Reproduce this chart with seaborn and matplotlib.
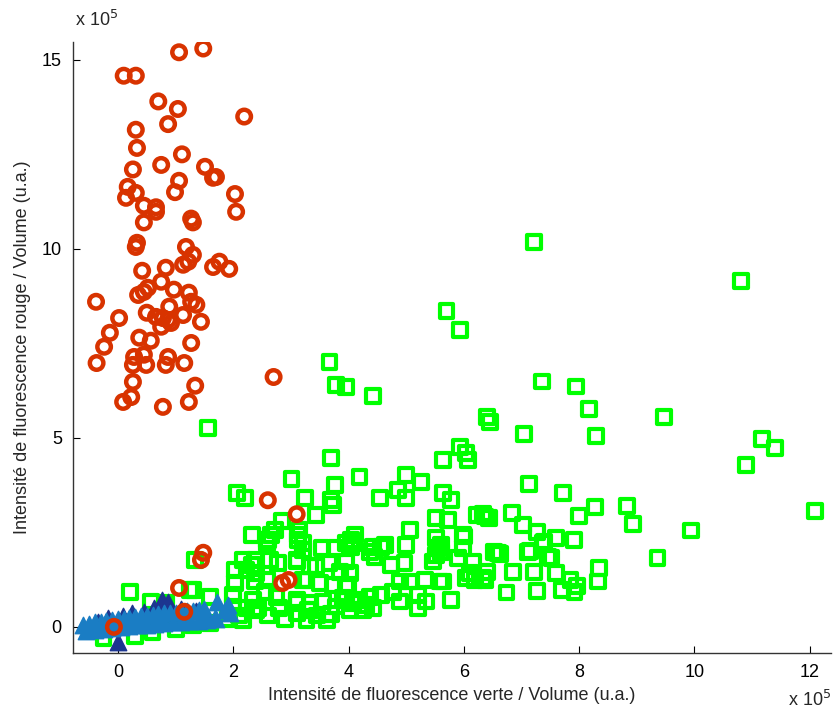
import pandas as pd
import matplotlib
matplotlib.use('Agg')
import matplotlib.pyplot as plt
import seaborn as sns

# ---- values (units of 1e5, u.a.) ----
# green squares
green_x = [7.21, 10.81, 5.70, 5.94, 3.67, 3.78, 3.95, 4.42, 1.56,
           7.36, 7.94, 8.17, 9.47, 6.40, 6.46, 7.05, 8.30, 11.17, 11.39, 10.89,
           7.13, 7.72, 12.09, 6.83, 6.43, 6.34, 7.02, 7.99, 8.28, 8.83, 8.94, 9.94,
           7.27, 7.39, 7.60, 7.91, 7.15, 7.52, 6.63, 9.36, 6.85, 7.21, 7.60, 8.35,
           8.32, 7.85, 7.97, 7.70, 7.27, 6.74, 6.40, 6.37,
           3.70, 4.19, 3.01, 3.76, 5.00, 5.26, 4.86, 5.00, 4.54, 5.64, 6.04, 6.07,
           5.93, 5.64, 5.78, 2.06, 2.20, 3.24, 3.70, 3.73, 3.43, 2.84, 2.72, 2.32,
           2.60, 3.15, 3.12, 3.21, 4.11, 4.05, 5.52, 5.72, 6.22, 6.36, 5.06, 5.00,
           5.52, 5.55, 6.01, 5.98, 3.53, 3.79, 4.05, 4.42, 4.57, 6.53,
           2.59, 2.66, 3.12, 3.96, 2.37, 2.32, 2.78, 2.03, 3.10, 3.44, 3.67, 3.85,
           2.03, 2.37, 2.58, 3.27, 3.50, 3.73, 3.96, 1.31, 1.59, 2.00, 2.55, 2.75,
           3.10, 3.33, 3.56, 3.79, 3.96, 2.23, 2.43, 3.10, 3.30, 3.62, 2.17,
           4.08, 4.63, 4.37, 4.45, 5.52, 5.46, 5.98, 5.90, 6.16, 6.59, 3.96, 4.02,
           4.74, 4.97, 6.10, 6.33, 6.19, 4.89, 5.06, 5.32, 5.58, 3.99, 3.90, 4.19,
           4.37, 4.57, 4.77, 4.89, 5.20, 5.35, 5.20, 5.78, 4.02, 4.25, 4.42, 4.08,
           4.31, 5.61, 5.61, 6.04, 7.11, 7.46, 7.92, 5.64, 7.37,
           1.33, 0.21, 0.58, 0.84, 1.25, 2.00, 2.35, 2.40, 2.58, 2.63, 2.40, 2.23,
           2.17, 3.10, 3.21, 3.33, 3.21, 3.10, 3.33, 3.27, -0.25, 1.07,
           0.30, 0.60, 1.00, 1.30, 1.60, 1.90, 2.10, 2.60, 2.90, 3.45, 3.70, 2.80]
green_y = [10.18, 9.16, 8.36, 7.86, 7.01, 6.40, 6.35, 6.11, 5.26,
           6.49, 6.36, 5.77, 5.56, 5.56, 5.43, 5.10, 5.05, 4.97, 4.74, 4.29,
           3.78, 3.54, 3.07, 3.02, 2.89, 3.00, 2.70, 2.94, 3.16, 3.20, 2.72, 2.55,
           2.52, 2.26, 2.35, 2.30, 2.01, 1.83, 1.92, 1.83, 1.46, 1.46, 1.42, 1.55,
           1.20, 1.24, 1.07, 0.98, 0.95, 0.91, 1.46, 1.24,
           4.46, 3.96, 3.91, 3.76, 4.02, 3.84, 3.62, 3.40, 3.40, 4.42, 4.60, 4.42,
           4.77, 3.54, 3.36, 3.54, 3.40, 3.40, 3.36, 3.23, 2.96, 2.79, 2.57, 2.43,
           2.30, 2.57, 2.30, 2.21, 2.43, 2.30, 2.88, 2.83, 2.96, 2.92, 2.57, 2.17,
           2.35, 2.08, 2.39, 2.08, 2.08, 2.08, 2.12, 2.12, 2.12, 1.99,
           2.30, 2.43, 2.43, 2.21, 1.77, 1.64, 1.69, 1.51, 1.73, 1.60, 1.69, 1.46,
           1.16, 1.20, 1.24, 1.24, 1.16, 1.11, 1.07, 0.98, 0.80, 0.85, 0.93, 0.80,
           0.71, 0.63, 0.67, 0.54, 0.71, 0.49, 0.49, 0.36, 0.45, 0.19, 0.19,
           2.21, 2.17, 1.99, 1.86, 1.90, 1.73, 2.43, 1.82, 1.73, 1.95, 1.73, 1.42,
           1.64, 1.69, 1.42, 1.29, 1.24, 1.20, 1.20, 1.24, 1.20, 1.11, 0.76, 0.71,
           0.80, 0.85, 0.93, 0.67, 0.85, 0.67, 0.49, 0.71, 0.45, 0.45, 0.49, 0.63,
           0.58, 2.17, 1.99, 1.29, 1.99, 1.86, 0.93, 1.20, 2.21,
           1.77, 0.93, 0.67, 0.63, 0.98, 0.54, 0.71, 0.45, 2.21, 1.77, 1.42, 1.51,
           1.77, 1.77, 2.04, 1.60, 1.24, 0.63, 0.45, 0.19, -0.30, 0.19,
           -0.25, -0.15, -0.05, 0.05, 0.10, 0.20, 0.30, 0.30, 0.20, 0.30, 0.35, 0.50]

# dark blue triangles (mostly hidden behind the light blue ones)
navy_x = [0.00, 0.76, 0.87, 0.62, 0.45, 0.24, 0.09, -0.17, -0.35, 1.10, 1.36]
navy_y = [-0.39, 0.71, 0.66, 0.50, 0.40, 0.36, 0.28, 0.24, 0.12, 0.48, 0.42]

# light blue triangles
blue_x = [-0.60, -0.50, -0.40, -0.30, -0.20, -0.10, 0.00, 0.10, 0.20, 0.30,
          0.40, 0.50, 0.60, 0.70, 0.80, 0.90, 1.00, 1.10, 1.20, 1.30, 1.40, 1.50,
          -0.55, -0.40, -0.25, -0.10, 0.05, 0.20, 0.35, 0.50, 0.65, 0.80, 0.95,
          1.10, 1.25, 1.40, 1.55, 1.70,
          1.71, 1.91, 1.94, 1.48, 1.68, 1.85]
blue_y = [0.05, 0.08, 0.12, 0.14, 0.16, 0.18, 0.20, 0.22, 0.24, 0.27,
          0.28, 0.30, 0.32, 0.34, 0.36, 0.37, 0.38, 0.40, 0.42, 0.43, 0.44, 0.46,
          -0.10, -0.08, -0.05, -0.03, 0.00, 0.02, 0.04, 0.06, 0.08, 0.10, 0.12,
          0.13, 0.15, 0.16, 0.18, 0.20,
          0.67, 0.58, 0.36, 0.32, 0.23, 0.45]

# red circles
red_x = [1.06, 1.48, 0.10, 0.31, 0.70, 1.04, 2.19, 0.87, 0.31, 0.33, 1.11, 0.75,
         1.51, 0.26, 1.65, 1.70, 1.06, 0.99, 0.17, 0.31, 0.14, 2.03, 2.05, 0.45,
         0.66, 0.66, 0.45, 1.27, 1.30, 0.31, 0.33, 1.18, 1.30, 1.13, 1.22, 1.65,
         1.76, 1.93, 0.42, 0.83, 0.75, 0.52, 0.35, 0.45, 0.97, 1.23, -0.38, 1.27,
         1.36, 0.89, 0.50, 0.02, 1.13, 0.66, 0.78, 0.87, 0.75, 0.92, 1.44, -0.14,
         0.37, 0.57, 1.27, -0.24, 0.28, 0.45, 0.49, 0.26, 0.87, 0.83, 1.15, -0.37,
         0.26, 1.34, 2.70, 0.23, 0.09, 1.23, 0.78,
         2.60, 3.10, 1.48, 1.44, 2.85, 2.96, 1.06, 1.15, -0.07]
red_y = [15.2, 15.3, 14.58, 14.58, 13.9, 13.7, 13.5, 13.3, 13.15, 12.67, 12.5, 12.22,
         12.17, 12.1, 11.88, 11.9, 11.8, 11.5, 11.64, 11.48, 11.35, 11.45, 10.98, 11.14,
         11.1, 10.98, 10.7, 10.8, 10.7, 10.05, 10.16, 10.05, 9.84, 9.58, 9.66, 9.52,
         9.66, 9.47, 9.42, 9.5, 9.13, 8.97, 8.78, 8.86, 8.92, 8.84, 8.6, 8.6,
         8.52, 8.47, 8.31, 8.17, 8.25, 8.2, 8.17, 8.12, 7.94, 8.04, 8.07, 7.78,
         7.65, 7.57, 7.51, 7.41, 7.14, 7.2, 6.93, 6.93, 7.14, 6.93, 6.98, 6.98,
         6.48, 6.38, 6.61, 6.08, 5.95, 5.95, 5.82,
         3.35, 2.98, 1.96, 1.77, 1.16, 1.24, 1.03, 0.40, 0.0]

green_df = pd.DataFrame({'x': green_x, 'y': green_y})
navy_df = pd.DataFrame({'x': navy_x, 'y': navy_y})
blue_df = pd.DataFrame({'x': blue_x, 'y': blue_y})
red_df = pd.DataFrame({'x': red_x, 'y': red_y})

sns.set_style('ticks')
plt.rcParams['font.family'] = ['Liberation Sans', 'DejaVu Sans']
plt.rcParams['font.size'] = 13

fig = plt.figure(figsize=(8.33, 7.2), dpi=100)
ax = fig.add_axes([0.0876, 0.0931, 0.9094, 0.849])

# ---- scatter, same stacking as the reference ----
sns.scatterplot(data=green_df, x='x', y='y', marker='s', s=100, facecolor='none',
                edgecolor='#00ff00', linewidth=3.0, ax=ax, zorder=2)
sns.scatterplot(data=navy_df, x='x', y='y', marker='^', s=140, color='#1c3590',
                edgecolor='#1c3590', linewidth=1.0, ax=ax, zorder=3)
sns.scatterplot(data=blue_df, x='x', y='y', marker='^', s=140, color='#1a7dc4',
                edgecolor='#1a7dc4', linewidth=1.0, ax=ax, zorder=4)
sns.scatterplot(data=red_df, x='x', y='y', marker='o', s=95, facecolor='none',
                edgecolor='#d83300', linewidth=3.2, ax=ax, zorder=5)

ax.set_xlim(-0.78, 12.36)
ax.set_ylim(-0.69, 15.48)
ax.set_xticks([0, 2, 4, 6, 8, 10, 12])
ax.set_yticks([0, 5, 10, 15])
ax.tick_params(direction='in', length=5, width=0.8, labelsize=13, colors='black', pad=8)
sns.despine(ax=ax)
for side in ['left', 'bottom']:
    ax.spines[side].set_color('#333333')
    ax.spines[side].set_linewidth(1.0)

ax.set_xlabel('Intensité de fluorescence verte / Volume (u.a.)', fontsize=13, labelpad=4)
ax.set_ylabel('Intensité de fluorescence rouge / Volume (u.a.)', fontsize=13, labelpad=8)

fig.text(0.09, 0.972, 'x 10$^5$', fontsize=13, ha='left', va='center')
fig.text(0.998, 0.028, 'x 10$^5$', fontsize=13, ha='right', va='center')

fig.savefig('out.png', dpi=100)
